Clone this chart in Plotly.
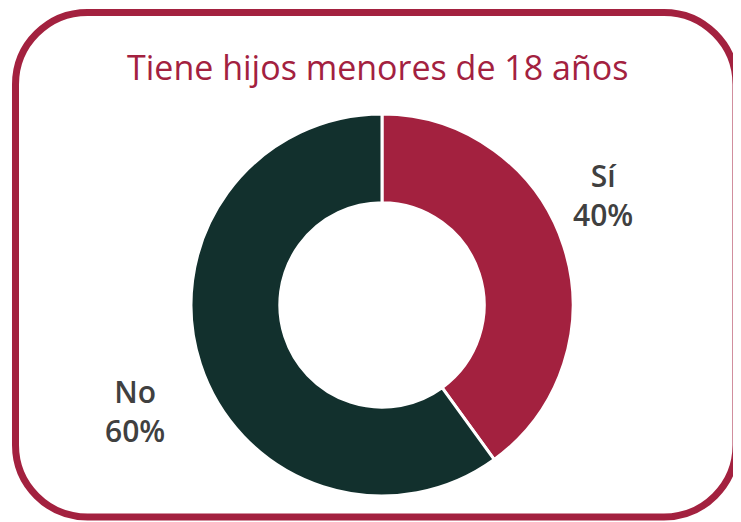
import plotly.graph_objects as go

W, H = 733, 514          # page is offset 8px by the browser body margin
OFF = 8
categories = ["Sí", "No"]
values = [40, 60]
colors = ["#A3213F", "#12302D"]
title_text = "Tiene hijos menores de 18 años"

CRIMSON = "#A3213F"
GRAY = "#404040"
FONT = "Open Sans"

def fx(x):
    return (x - OFF) / W
def fy(y):
    return (H - (y - OFF)) / H

fig = go.Figure()
cx, cy, R = 382, 305, 191
fig.add_trace(go.Pie(
    labels=categories, values=values, sort=False, direction="clockwise",
    rotation=0, hole=0.535,
    marker=dict(colors=colors, line=dict(color="white", width=3)),
    textinfo="none", hoverinfo="label+percent", showlegend=False,
    domain=dict(x=[fx(cx - R), fx(cx + R)], y=[fy(cy + R), fy(cy - R)]),
))

# rounded border
x0, x1, y0, y1, r = 15.5, 736, 12.5, 517, 72
k = 0.5523 * r
def P(x, y):
    return f"{fx(x):.5f},{fy(y):.5f}"
path = (f"M {P(x0 + r, y0)} L {P(x1 - r, y0)} "
        f"C {P(x1 - r + k, y0)} {P(x1, y0 + r - k)} {P(x1, y0 + r)} "
        f"L {P(x1, y1 - r)} "
        f"C {P(x1, y1 - r + k)} {P(x1 - r + k, y1)} {P(x1 - r, y1)} "
        f"L {P(x0 + r, y1)} "
        f"C {P(x0 + r - k, y1)} {P(x0, y1 - r + k)} {P(x0, y1 - r)} "
        f"L {P(x0, y0 + r)} "
        f"C {P(x0, y0 + r - k)} {P(x0 + r - k, y0)} {P(x0 + r, y0)} Z")
fig.add_shape(type="path", path=path, xref="paper", yref="paper",
              line=dict(color=CRIMSON, width=7), layer="below")

fig.add_annotation(text=title_text, x=fx(377), y=fy(67), xref="paper", yref="paper",
                   showarrow=False, font=dict(family=FONT, size=34, color=CRIMSON),
                   xanchor="center", yanchor="middle")

total = sum(values)
label_pos = [(603, 195), (135, 411)]
for cat, v, (lx, ly) in zip(categories, values, label_pos):
    fig.add_annotation(text=f"{cat}<br>{round(100 * v / total)}%",
                       x=fx(lx), y=fy(ly), xref="paper", yref="paper",
                       showarrow=False, align="center",
                       font=dict(family=FONT, size=30, color=GRAY, weight=600),
                       xanchor="center", yanchor="middle")

fig.update_layout(width=W, height=H, margin=dict(l=0, r=0, t=0, b=0),
                  paper_bgcolor="white", plot_bgcolor="white")
fig.write_html("out.html")
